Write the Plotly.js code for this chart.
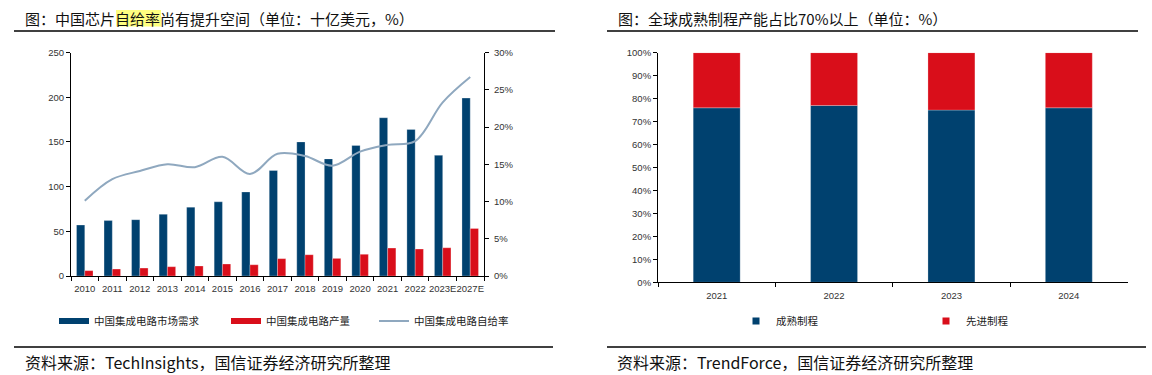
<!DOCTYPE html>
<html>
<head>
<meta charset="utf-8">
<script src="https://cdn.plot.ly/plotly-3.0.1.min.js"></script>
<style>
html,body{margin:0;padding:0;background:#fff;}
#chart{width:1152px;height:375px;}
</style>
</head>
<body>
<div id="chart"></div>
<script>
// ---- Left chart data (十亿美元, %) ----
var years = ['2010','2011','2012','2013','2014','2015','2016','2017','2018','2019','2020','2021','2022','2023E','2027E'];
var marketDemand = [57, 62, 63, 69, 77, 83, 94, 118, 150, 131, 146, 177, 164, 135, 199];
var production = [6, 7.8, 8.9, 10.4, 11.2, 13.4, 12.6, 19.4, 23.8, 19.7, 24.2, 31.2, 30.1, 31.6, 53.2];
var selfSufficiency = [10.1, 13.0, 14.1, 15.0, 14.6, 16.0, 13.7, 16.4, 16.1, 14.8, 16.7, 17.6, 18.1, 23.3, 26.7];
var leftNames = ['中国集成电路市场需求', '中国集成电路产量', '中国集成电路自给率'];

// ---- Right chart data (%) ----
var capYears = ['2021', '2022', '2023', '2024'];
var mature = [76, 77, 75, 76];
var advanced = [24, 23, 25, 24];
var rightNames = ['成熟制程', '先进制程'];

// ---- helpers: pixel -> paper ----
var W = 1152, H = 375;
function px(x){ return x / W; }
function py(y){ return 1 - y / H; }

var BLUE = '#00416F', RED = '#D90E1A', LINE = '#8FA8BF';
var CJK = 'Noto Sans CJK SC, Noto Sans, sans-serif';
var TICKF = {family: 'Liberation Sans, Arial, sans-serif', size: 9.5, color: '#333333'};

var traces = [
  {type:'bar', x: years, y: marketDemand, xaxis:'x', yaxis:'y', name: leftNames[0],
   marker:{color: BLUE, line:{color:'rgba(255,255,255,0.45)', width:0.6}},
   showlegend:false, legendgroup:'a', hoverinfo:'skip'},
  {type:'bar', x: years, y: production, xaxis:'x', yaxis:'y', name: leftNames[1],
   marker:{color: RED, line:{color:'rgba(255,255,255,0.45)', width:0.6}},
   showlegend:false, legendgroup:'b', hoverinfo:'skip'},
  {type:'scatter', mode:'lines', x: years, y: selfSufficiency, xaxis:'x', yaxis:'y2', name: leftNames[2],
   line:{color: LINE, width:2, shape:'spline', smoothing:1}, legend:'legend3', hoverinfo:'skip'},
  // legend swatches for bar series (wide rectangles like the original)
  {type:'scatter', mode:'lines', x:[years[0]], y:[null], xaxis:'x', yaxis:'y', name: leftNames[0],
   line:{color: BLUE, width:6}, legend:'legend', legendgroup:'a', hoverinfo:'skip'},
  {type:'scatter', mode:'lines', x:[years[0]], y:[null], xaxis:'x', yaxis:'y', name: leftNames[1],
   line:{color: RED, width:6}, legend:'legend2', legendgroup:'b', hoverinfo:'skip'},

  // right chart: stacked via base
  {type:'bar', x: capYears, y: mature, xaxis:'x2', yaxis:'y3', name: rightNames[0],
   offsetgroup:'r', width:0.4, marker:{color: BLUE, line:{color:'rgba(255,255,255,0.4)', width:0.6}},
   showlegend:false, legendgroup:'c', hoverinfo:'skip'},
  {type:'bar', x: capYears, y: advanced, base: mature, xaxis:'x2', yaxis:'y3', name: rightNames[1],
   offsetgroup:'r', width:0.4, marker:{color: RED, line:{color:'rgba(255,255,255,0.4)', width:0.6}},
   showlegend:false, legendgroup:'d', hoverinfo:'skip'},
  {type:'scatter', mode:'markers', x:[capYears[0]], y:[null], xaxis:'x2', yaxis:'y3', name: rightNames[0],
   marker:{color: BLUE, symbol:'square', size:7}, legend:'legend4', legendgroup:'c', hoverinfo:'skip'},
  {type:'scatter', mode:'markers', x:[capYears[0]], y:[null], xaxis:'x2', yaxis:'y3', name: rightNames[1],
   marker:{color: RED, symbol:'square', size:7}, legend:'legend5', legendgroup:'d', hoverinfo:'skip'}
];

function legendAt(x, y){
  return {x: px(x), y: py(y), xanchor:'left', yanchor:'middle', orientation:'h',
          bgcolor:'rgba(0,0,0,0)', borderwidth:0, font:{family:CJK, size:10.5, color:'#222'},
          itemclick:false, itemdoubleclick:false};
}

var layout = {
  width: W, height: H,
  margin:{l:0, r:0, t:0, b:0},
  paper_bgcolor:'#ffffff', plot_bgcolor:'rgba(0,0,0,0)',
  showlegend:true,
  barmode:'group', bargap:0.4, bargroupgap:0,
  xaxis:{domain:[px(71), px(484)], anchor:'y', type:'category', showgrid:false, zeroline:false,
         showline:true, linecolor:'#000', linewidth:1, ticks:'outside', tickson:'boundaries',
         ticklen:4, tickcolor:'#000', tickfont:TICKF, tickangle:0, ticklabelstandoff:4, fixedrange:true},
  yaxis:{domain:[py(276), py(52.5)], anchor:'x', range:[0,250], dtick:50, showgrid:false, zeroline:false,
         showline:true, linecolor:'#000', linewidth:1, ticks:'outside', ticklen:4, tickcolor:'#000',
         tickfont:TICKF, fixedrange:true},
  yaxis2:{overlaying:'y', side:'right', anchor:'x', range:[0,30], dtick:5, ticksuffix:'%',
          showgrid:false, zeroline:false, showline:true, linecolor:'#000', linewidth:1,
          ticks:'outside', ticklen:4, tickcolor:'#000', tickfont:TICKF, ticklabelstandoff:3, fixedrange:true},
  xaxis2:{domain:[px(658), px(1127.5)], anchor:'y3', type:'category', showgrid:false, zeroline:false,
          showline:true, linecolor:'#000', linewidth:1, ticks:'outside', tickson:'boundaries',
          ticklen:4, tickcolor:'#000', tickfont:TICKF, ticklabelstandoff:4, fixedrange:true},
  yaxis3:{domain:[py(282.3), py(52.7)], anchor:'x2', range:[0,100], dtick:10, ticksuffix:'%',
          showgrid:false, zeroline:false, showline:true, linecolor:'#000', linewidth:1,
          ticks:'outside', ticklen:4, tickcolor:'#000', tickfont:TICKF, fixedrange:true},
  legend: legendAt(54, 321),
  legend2: legendAt(226, 321),
  legend3: legendAt(374, 321),
  legend4: legendAt(736, 321),
  legend5: legendAt(926, 321),
  shapes:[
    // highlight behind 自给率
    {type:'rect', xref:'paper', yref:'paper', x0:px(116), x1:px(161), y0:py(26.5), y1:py(10),
     fillcolor:'#FFFF80', line:{width:0}, layer:'below'},
    // title rules
    {type:'line', xref:'paper', yref:'paper', x0:px(14), x1:px(555), y0:py(31), y1:py(31),
     line:{color:'#000', width:1.5}},
    {type:'line', xref:'paper', yref:'paper', x0:px(607), x1:px(1138), y0:py(31), y1:py(31),
     line:{color:'#000', width:1.5}},
    // source rules
    {type:'line', xref:'paper', yref:'paper', x0:px(14), x1:px(553), y0:py(347), y1:py(347),
     line:{color:'#404040', width:2}},
    {type:'line', xref:'paper', yref:'paper', x0:px(607), x1:px(1146), y0:py(347), y1:py(347),
     line:{color:'#404040', width:2}}
  ],
  annotations:[
    {text:'图：中国芯片自给率尚有提升空间（单位：十亿美元，%）', xref:'paper', yref:'paper',
     x:px(23), y:py(18), xanchor:'left', yanchor:'middle', showarrow:false,
     font:{family:CJK, size:15, color:'#111'}},
    {text:'图：全球成熟制程产能占比70%以上（单位：%）', xref:'paper', yref:'paper',
     x:px(616), y:py(18), xanchor:'left', yanchor:'middle', showarrow:false,
     font:{family:CJK, size:15, color:'#111'}},
    {text:'资料来源：TechInsights，国信证券经济研究所整理', xref:'paper', yref:'paper',
     x:px(23), y:py(362), xanchor:'left', yanchor:'middle', showarrow:false,
     font:{family:CJK, size:16, color:'#111'}},
    {text:'资料来源：TrendForce，国信证券经济研究所整理', xref:'paper', yref:'paper',
     x:px(615), y:py(362), xanchor:'left', yanchor:'middle', showarrow:false,
     font:{family:CJK, size:16, color:'#111'}}
  ]
};

Plotly.newPlot('chart', traces, layout, {staticPlot:true, displayModeBar:false, responsive:false});
</script>
</body>
</html>
